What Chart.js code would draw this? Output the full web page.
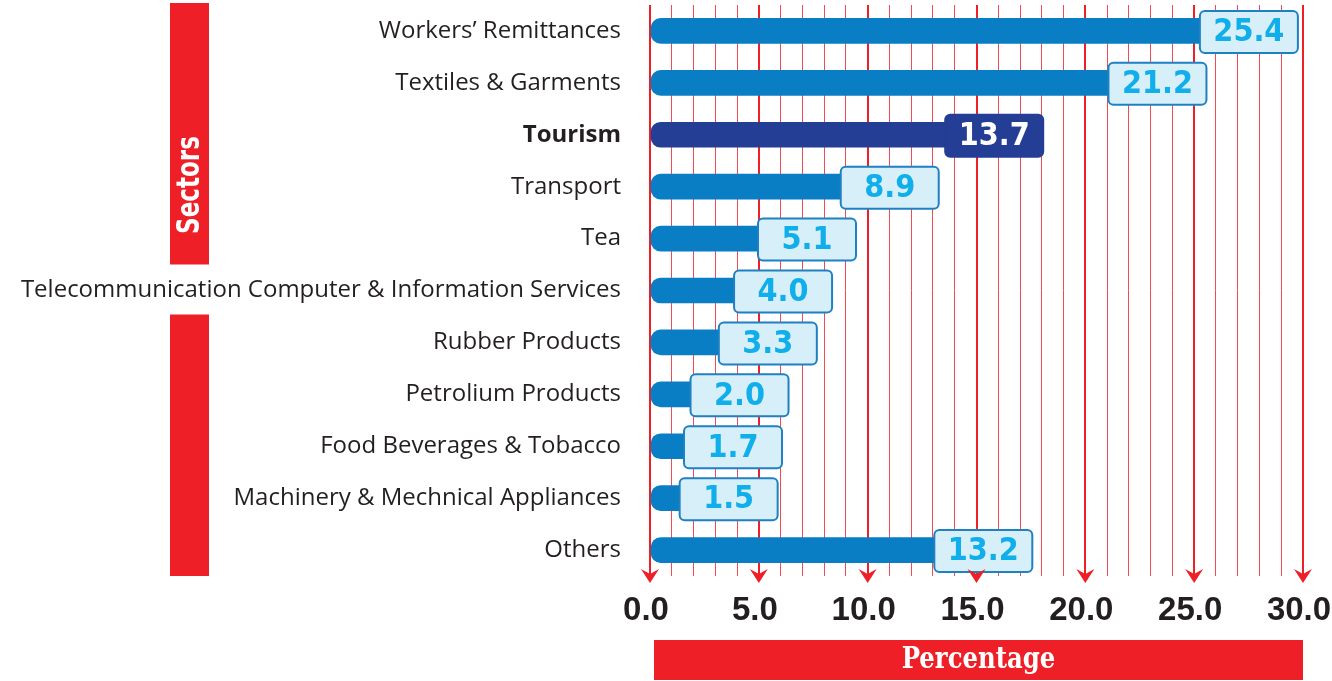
<!DOCTYPE html>
<html lang="en">
<head>
  <meta charset="utf-8">
  <script src="https://cdn.jsdelivr.net/npm/chart.js"></script>
</head>
<style>
  html, body {
    margin: 0;
    padding: 0;
    background-color: #fff;
  }
  #wrap {
    width: 1332px;
    height: 681px;
  }
</style>
<body>
  <div id="wrap">
    <canvas id="sectorChart" width="1332" height="681"></canvas>
  </div>

  <script>
    // Data
    var sectors = [
      'Workers\u2019 Remittances', 'Textiles & Garments', 'Tourism', 'Transport', 'Tea',
      'Telecommunication Computer & Information Services', 'Rubber Products',
      'Petrolium Products', 'Food Beverages & Tobacco', 'Machinery & Mechnical Appliances', 'Others'
    ];
    var shares = [25.4, 21.2, 13.7, 8.9, 5.1, 4.0, 3.3, 2.0, 1.7, 1.5, 13.2];
    var xTicks = [0, 5, 10, 15, 20, 25, 30];
    var highlight = 'Tourism';
    var yTitle = 'Sectors';
    var xTitle = 'Percentage';

    var RED = '#ee1f26';
    var BLUE = '#0a7ec4';
    var NAVY = '#243e96';

    // red bands, arrows and value boxes
    var decorations = {
      id: 'decorations',
      afterDatasetsDraw: function (chart) {
        var ctx = chart.ctx;
        var meta = chart.getDatasetMeta(0);
        ctx.save();
        meta.data.forEach(function (bar, i) {
          var isHi = sectors[i] === highlight;
          var bx = bar.x - 3, by = bar.y + 1 - 21, bw = 98, bh = 42;
          ctx.beginPath();
          ctx.roundRect(bx, by, bw, bh, 5);
          ctx.fillStyle = isHi ? NAVY : '#d7eff9';
          ctx.fill();
          ctx.lineWidth = 2;
          ctx.strokeStyle = isHi ? NAVY : '#1f80c2';
          ctx.stroke();
          ctx.save();
          ctx.translate(bx + bw / 2, bar.y + 2);
          ctx.scale(0.9, 1);
          ctx.font = 'bold 32px "DejaVu Sans"';
          ctx.fillStyle = isHi ? '#ffffff' : '#10aeea';
          ctx.textAlign = 'center';
          ctx.textBaseline = 'middle';
          ctx.fillText(shares[i].toFixed(1), 0, 0);
          ctx.restore();
        });
        ctx.restore();
      },
      afterDraw: function (chart) {
        var ctx = chart.ctx;
        var area = chart.chartArea;
        var xs = chart.scales.x;
        var ys = chart.scales.y;
        ctx.save();

        // arrows at major ticks
        ctx.fillStyle = RED;
        ctx.strokeStyle = RED;
        ctx.lineWidth = 2;
        xTicks.forEach(function (v) {
          var x = xs.getPixelForValue(v);
          ctx.beginPath();
          ctx.moveTo(x, area.bottom);
          ctx.lineTo(x, area.bottom + 4);
          ctx.stroke();
          ctx.beginPath();
          ctx.moveTo(x, area.bottom + 7);
          ctx.lineTo(x - 9, area.bottom - 7);
          ctx.lineTo(x, area.bottom - 2);
          ctx.lineTo(x + 9, area.bottom - 7);
          ctx.closePath();
          ctx.fill();
        });

        // Percentage band
        var px0 = xs.getPixelForValue(0) + 4;
        var px1 = xs.getPixelForValue(30);
        ctx.fillStyle = RED;
        ctx.fillRect(px0, 640, px1 - px0, 40);
        ctx.save();
        ctx.translate((px0 + px1) / 2, 660);
        ctx.scale(0.84, 1);
        ctx.fillStyle = '#fff';
        ctx.font = 'bold 29px "DejaVu Serif"';
        ctx.textAlign = 'center';
        ctx.textBaseline = 'middle';
        ctx.fillText(xTitle, 0, 0);
        ctx.restore();

        // Sectors band, broken around the long label
        var gy = ys.getPixelForValue(5);
        ctx.fillStyle = RED;
        ctx.fillRect(170, area.top - 2, 39, gy - 26 - area.top + 2);
        ctx.fillRect(170, gy + 24, 39, area.bottom - gy - 24);
        ctx.save();
        ctx.translate(191, 185);
        ctx.rotate(-Math.PI / 2);
        ctx.scale(0.72, 1);
        ctx.fillStyle = '#fff';
        ctx.font = 'bold 32px "DejaVu Sans"';
        ctx.textAlign = 'center';
        ctx.textBaseline = 'middle';
        ctx.fillText(yTitle, 0, 0);
        ctx.restore();

        ctx.restore();
      }
    };

    var ctx = document.getElementById('sectorChart').getContext('2d');
    var sectorChart = new Chart(ctx, {
      type: 'bar',
      data: {
        labels: sectors,
        datasets: [{
          data: shares,
          backgroundColor: sectors.map(function (s) { return s === highlight ? NAVY : BLUE; }),
          barThickness: 25,
          borderSkipped: false,
          borderRadius: { topLeft: 10, bottomLeft: 10, topRight: 0, bottomRight: 0 }
        }]
      },
      options: {
        indexAxis: 'y',
        responsive: false,
        animation: false,
        layout: { padding: { left: 0, right: 29, top: 5, bottom: 0 } },
        plugins: {
          legend: { display: false },
          tooltip: { enabled: false }
        },
        scales: {
          x: {
            min: 0,
            max: 30,
            afterFit: function (scale) {
              scale.height = 105;
              scale.paddingLeft = 0;
              scale.paddingRight = 0;
            },
            border: { display: false },
            grid: {
              drawTicks: false,
              color: function (c) { return c.tick.value % 5 === 0 ? RED : '#f04a52'; },
              lineWidth: function (c) { return c.tick.value % 5 === 0 ? 2 : 1; }
            },
            ticks: {
              stepSize: 1,
              autoSkip: false,
              maxRotation: 0,
              padding: 15,
              labelOffset: -4,
              color: '#231f20',
              font: { family: '"Liberation Sans", Arial, sans-serif', size: 33, weight: 'bold' },
              callback: function (v) { return xTicks.indexOf(v) >= 0 ? v.toFixed(1) : ''; }
            }
          },
          y: {
            afterFit: function (scale) {
              scale.width = 650;
              scale.paddingTop = 0;
              scale.paddingBottom = 0;
            },
            border: { display: false },
            grid: { display: false, drawTicks: false },
            ticks: {
              padding: 29,
              color: '#231f20',
              font: function (c) {
                return {
                  family: '"Open Sans", sans-serif',
                  size: 24,
                  weight: sectors[c.index] === highlight ? 'bold' : 'normal'
                };
              }
            }
          }
        }
      },
      plugins: [decorations]
    });
  </script>
</body>
</html>
